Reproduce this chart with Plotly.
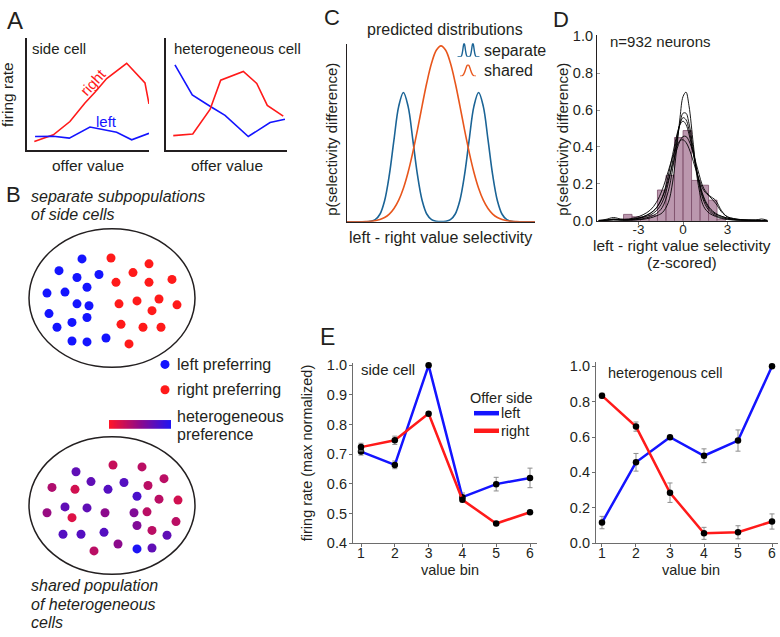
import plotly.graph_objects as go

W, H = 780, 637
FONT = "Liberation Sans, Arial, Helvetica, sans-serif"
INK = "#231f20"
RED = "#ff1a1a"
BLUE = "#1414ff"
SEP_BLUE = "#1b6496"
SHARED_ORANGE = "#e8561c"
HET_SCALE = [[0.0, "#ff1428"], [0.5, "#8c0a8c"], [1.0, "#1e14f5"]]

# ---- A: schematic tuning curves (offer value vs firing rate, arbitrary units)
side_right_x = [0.06, 0.216, 0.352, 0.475, 0.557, 0.653, 0.817, 0.967, 1.0]
side_right_y = [0.073, 0.132, 0.252, 0.418, 0.515, 0.638, 0.775, 0.599, 0.41]
side_left_x = [0.066, 0.216, 0.347, 0.516, 0.735, 0.858, 1.0]
side_left_y = [0.117, 0.12, 0.103, 0.202, 0.155, 0.088, 0.146]
hetA_left_x = [0.074, 0.217, 0.364, 0.488, 0.68, 0.86, 0.983]
hetA_left_y = [0.761, 0.491, 0.389, 0.307, 0.117, 0.243, 0.272]
hetA_right_x = [0.06, 0.221, 0.364, 0.452, 0.639, 0.75, 0.837, 0.969]
hetA_right_y = [0.125, 0.14, 0.36, 0.623, 0.702, 0.594, 0.397, 0.301]

# ---- B: cartoon populations (positions in figure pixels)
sep_blue_x = [82, 59, 77, 99, 47, 65, 87, 77, 89, 49, 72, 87, 57, 72, 87, 106]
sep_blue_y = [258, 270, 277, 274, 293, 292, 287, 304, 306, 314, 323, 318, 328, 342, 343, 339]
sep_red_x = [111, 149, 133, 116, 149, 172, 119, 137, 159, 177, 152, 121, 143, 161, 129]
sep_red_y = [257, 263, 272, 282, 282, 279, 304, 301, 299, 305, 311, 325, 328, 328, 345]
shared_x = [76, 113, 142, 52, 75, 91, 108, 124, 148, 164, 137, 159, 178, 47, 65, 87,
            72, 105, 134, 147, 137, 152, 176, 63, 81, 104, 167, 94, 118, 137, 152]
shared_y = [476, 469, 471, 492, 494, 486, 494, 487, 490, 483, 501, 504, 505, 518, 512, 513,
            523, 518, 518, 517, 531, 536, 527, 540, 540, 538, 541, 557, 550, 555, 554]
# 0 = right preferring (red), 1 = left preferring (blue)
shared_pref = [0.7, 0.25, 0.3, 0.35, 0.2, 0.7, 0.75, 0.75, 0.3, 0.3, 0.8, 0.3, 0.2, 0.45, 0.7, 0.7,
               0.15, 0.5, 0.55, 0.3, 0.55, 0.3, 0.3, 0.75, 0.75, 0.75, 0.7, 0.3, 0.5, 1.0, 0.7]
legend_dot_x = [165, 165]
legend_dot_y = [366, 392]

# ---- C: predicted distributions
c_x = [-4.0, -3.8, -3.6, -3.4, -3.2, -3.0, -2.8, -2.6, -2.4, -2.2, -2.0, -1.8, -1.6, -1.4,
       -1.2, -1.0, -0.8, -0.6, -0.4, -0.2, 0.0, 0.2, 0.4, 0.6, 0.8, 1.0, 1.2, 1.4, 1.6, 1.8,
       2.0, 2.2, 2.4, 2.6, 2.8, 3.0, 3.2, 3.4, 3.6, 3.8, 4.0]
separate_y = [0, 0, 0, 0, 0.0005, 0.003, 0.012, 0.043, 0.12, 0.265, 0.467, 0.656, 0.735, 0.656,
              0.467, 0.265, 0.12, 0.043, 0.012, 0.003, 0.001, 0.003, 0.012, 0.043, 0.12, 0.265,
              0.467, 0.656, 0.735, 0.656, 0.467, 0.265, 0.12, 0.043, 0.012, 0.003, 0.0005, 0, 0, 0, 0]
shared_y_c = [0, 0, 0.0002, 0.0006, 0.0014, 0.003, 0.0063, 0.0127, 0.0243, 0.044, 0.0756, 0.123,
              0.191, 0.282, 0.395, 0.524, 0.662, 0.793, 0.902, 0.975, 1.0, 0.975, 0.902, 0.793,
              0.662, 0.524, 0.395, 0.282, 0.191, 0.123, 0.0756, 0.044, 0.0243, 0.0127, 0.0063,
              0.003, 0.0014, 0.0006, 0.0002, 0, 0]

# ---- D: observed distribution (z-scored), histogram + density curves
hist_x = [-3.73, -3.16, -2.58, -2.01, -1.44, -0.86, -0.29, 0.29, 0.86, 1.44, 2.01, 2.58]
hist_y = [0.035, 0.022, 0.02, 0.03, 0.167, 0.246, 0.451, 0.489, 0.219, 0.193, 0.112, 0.01]
bin_width = 0.574
d_x = [-5.7, -5.2, -4.7, -4.2, -3.7, -3.2, -2.7, -2.2, -1.8, -1.4, -1.0, -0.7, -0.4, -0.2, 0.0,
       0.2, 0.4, 0.7, 1.0, 1.4, 1.8, 2.2, 2.6, 3.0, 3.4, 3.9, 4.4, 4.9, 5.3, 5.7]
density_curves = [
    [0.0, 0.003, 0.010, 0.005, 0.003, 0.004, 0.008, 0.016, 0.027, 0.044, 0.098, 0.21, 0.412, 0.561,
     0.673, 0.697, 0.625, 0.412, 0.21, 0.077, 0.04, 0.024, 0.013, 0.007, 0.004, 0.003, 0.004,
     0.003, 0.002, 0.0],
    [0.0, 0.002, 0.006, 0.004, 0.004, 0.006, 0.012, 0.023, 0.039, 0.073, 0.159, 0.281, 0.438, 0.529,
     0.583, 0.583, 0.529, 0.385, 0.235, 0.106, 0.052, 0.029, 0.018, 0.01, 0.005, 0.003, 0.002,
     0.002, 0.001, 0.0],
    [0.001, 0.004, 0.008, 0.006, 0.005, 0.01, 0.019, 0.032, 0.055, 0.101, 0.203, 0.324, 0.458, 0.526,
     0.559, 0.548, 0.495, 0.37, 0.24, 0.12, 0.063, 0.036, 0.024, 0.014, 0.008, 0.004, 0.003,
     0.002, 0.001, 0.0],
    [0.0, 0.002, 0.004, 0.004, 0.005, 0.011, 0.022, 0.041, 0.07, 0.129, 0.243, 0.36, 0.471, 0.522,
     0.54, 0.522, 0.471, 0.36, 0.243, 0.129, 0.07, 0.041, 0.025, 0.015, 0.008, 0.004, 0.003,
     0.004, 0.002, 0.0],
    [0.0, 0.003, 0.007, 0.004, 0.006, 0.012, 0.022, 0.042, 0.07, 0.126, 0.219, 0.306, 0.391, 0.434,
     0.457, 0.457, 0.434, 0.365, 0.276, 0.176, 0.136, 0.111, 0.055, 0.021, 0.012, 0.006, 0.004,
     0.003, 0.002, 0.0],
    [0.003, 0.008, 0.018, 0.01, 0.01, 0.018, 0.033, 0.059, 0.1, 0.169, 0.268, 0.347, 0.41, 0.435,
     0.439, 0.425, 0.393, 0.321, 0.244, 0.165, 0.131, 0.096, 0.049, 0.022, 0.013, 0.007, 0.004,
     0.004, 0.01, 0.003],
]

# ---- E: example neurons, firing rate (max normalized) per value bin
value_bins = [1, 2, 3, 4, 5, 6]
side_left = [0.709, 0.664, 1.0, 0.555, 0.599, 0.620]
side_left_err = [0.012, 0.013, 0.0, 0.014, 0.023, 0.033]
side_right = [0.724, 0.747, 0.837, 0.546, 0.466, 0.504]
side_right_err = [0.013, 0.014, 0.0, 0.007, 0.003, 0.003]
het_left = [0.116, 0.457, 0.599, 0.494, 0.58, 1.0]
het_left_err = [0.035, 0.05, 0.004, 0.039, 0.06, 0.0]
het_right = [0.834, 0.659, 0.285, 0.055, 0.061, 0.122]
het_right_err = [0.014, 0.026, 0.055, 0.034, 0.037, 0.043]


def fx(p):
    return p / W


def fy(p):
    return 1 - p / H


def frame(x0, x1, rng, line_color=INK, width=1.5):
    return dict(domain=[fx(x0), fx(x1)], range=rng, showgrid=False, zeroline=False,
                showline=True, linecolor=line_color, linewidth=width, ticks="",
                showticklabels=False, fixedrange=True)


def vframe(y_top, y_bot, rng, line_color=INK, width=1.5):
    return dict(domain=[fy(y_bot), fy(y_top)], range=rng, showgrid=False, zeroline=False,
                showline=True, linecolor=line_color, linewidth=width, ticks="",
                showticklabels=False, fixedrange=True)


def hidden(domain, rng):
    return dict(domain=domain, range=rng, visible=False, fixedrange=True)


fig = go.Figure()

# A
fig.add_trace(go.Scatter(x=side_right_x, y=side_right_y, mode="lines", line=dict(color=RED, width=1.6),
                         xaxis="x", yaxis="y", showlegend=False))
fig.add_trace(go.Scatter(x=side_left_x, y=side_left_y, mode="lines", line=dict(color=BLUE, width=1.6),
                         xaxis="x", yaxis="y", showlegend=False))
fig.add_trace(go.Scatter(x=hetA_left_x, y=hetA_left_y, mode="lines", line=dict(color=BLUE, width=1.6),
                         xaxis="x2", yaxis="y2", showlegend=False))
fig.add_trace(go.Scatter(x=hetA_right_x, y=hetA_right_y, mode="lines", line=dict(color=RED, width=1.6),
                         xaxis="x2", yaxis="y2", showlegend=False))

# C
fig.add_trace(go.Scatter(x=c_x, y=separate_y, mode="lines", line=dict(color=SEP_BLUE, width=1.6, shape="spline"),
                         xaxis="x3", yaxis="y3", showlegend=False))
fig.add_trace(go.Scatter(x=c_x, y=shared_y_c, mode="lines", line=dict(color=SHARED_ORANGE, width=1.6, shape="spline"),
                         xaxis="x3", yaxis="y3", showlegend=False))
# C legend glyphs: miniature copies of the curves
fig.add_trace(go.Scatter(x=c_x, y=separate_y, mode="lines", line=dict(color=SEP_BLUE, width=1.4, shape="spline"),
                         xaxis="x4", yaxis="y4", showlegend=False))
fig.add_trace(go.Scatter(x=c_x, y=shared_y_c, mode="lines", line=dict(color=SHARED_ORANGE, width=1.4, shape="spline"),
                         xaxis="x5", yaxis="y5", showlegend=False))

# D
fig.add_trace(go.Bar(x=hist_x, y=hist_y, width=bin_width,
                     marker=dict(color="rgba(150,95,130,0.65)", line=dict(color="rgb(125,80,108)", width=0.8)),
                     xaxis="x6", yaxis="y6", showlegend=False))
for curve in density_curves:
    fig.add_trace(go.Scatter(x=d_x, y=curve, mode="lines", line=dict(color="black", width=0.9, shape="spline"),
                             xaxis="x6", yaxis="y6", showlegend=False))

# E
for xa, ya, ys, errs, col in [("x7", "y7", side_left, side_left_err, BLUE),
                              ("x7", "y7", side_right, side_right_err, RED),
                              ("x8", "y8", het_left, het_left_err, BLUE),
                              ("x8", "y8", het_right, het_right_err, RED)]:
    fig.add_trace(go.Scatter(x=value_bins, y=ys, mode="lines+markers",
                             line=dict(color=col, width=2.5),
                             marker=dict(color="black", size=6.5),
                             error_y=dict(type="data", array=errs, color="#8c8c8c", thickness=1, width=2.5),
                             xaxis=xa, yaxis=ya, showlegend=False, cliponaxis=False))

# B (figure-pixel overlay)
fig.add_trace(go.Scatter(x=sep_blue_x, y=sep_blue_y, mode="markers", marker=dict(color=BLUE, size=9),
                         xaxis="x9", yaxis="y9", showlegend=False))
fig.add_trace(go.Scatter(x=sep_red_x, y=sep_red_y, mode="markers", marker=dict(color=RED, size=9),
                         xaxis="x9", yaxis="y9", showlegend=False))
fig.add_trace(go.Scatter(x=shared_x, y=shared_y, mode="markers",
                         marker=dict(color=shared_pref, colorscale=HET_SCALE, cmin=0, cmax=1, size=9),
                         xaxis="x9", yaxis="y9", showlegend=False))
fig.add_trace(go.Scatter(x=legend_dot_x, y=legend_dot_y, mode="markers",
                         marker=dict(color=[BLUE, RED], size=9),
                         xaxis="x9", yaxis="y9", showlegend=False))
fig.add_trace(go.Heatmap(z=[[0, 1], [0, 1]], x=[0, 1], y=[0, 1], zsmooth="best", colorscale=HET_SCALE,
                         zmin=0, zmax=1, showscale=False, xaxis="x10", yaxis="y10", hoverinfo="skip"))

tick_font = dict(family=FONT, size=14.5, color=INK)
e_xtick_font = dict(family=FONT, size=14, color=INK)

layout_axes = dict(
    xaxis=dict(frame(27, 149, [0, 1]), anchor="y"),
    yaxis=dict(vframe(32, 146, [0, 1]), anchor="x"),
    xaxis2=dict(frame(166, 287, [0, 1]), anchor="y2"),
    yaxis2=dict(vframe(32, 146, [0, 1]), anchor="x2"),
    xaxis3=dict(frame(347, 535, [-4, 4], width=1.2), anchor="y3"),
    yaxis3=dict(vframe(38, 220, [0, 1.01], width=1.2), anchor="x3"),
    xaxis4=dict(hidden([fx(457), fx(480)], [-4.2, 4.2]), anchor="y4"),
    yaxis4=dict(hidden([fy(51), fy(37)], [0, 0.75]), anchor="x4"),
    xaxis5=dict(hidden([fx(460), fx(476)], [-3, 3]), anchor="y5"),
    yaxis5=dict(hidden([fy(71), fy(59)], [0, 1]), anchor="x5"),
    xaxis6=dict(frame(597, 768, [-5.81, 5.74], width=1.2), anchor="y6",
                ticks="outside", ticklen=3, tickcolor="#777", showticklabels=True,
                ticklabelstandoff=-7,
                tickvals=[-3, 0, 3], ticktext=["-3", "0", "3"],
                tickfont=dict(family=FONT, size=13.5, color=INK)),
    yaxis6=dict(vframe(29, 219, [0, 1.005], width=1.2), anchor="x6",
                ticks="inside", ticklen=3, tickcolor="#999", showticklabels=True,
                tickvals=[0, 0.2, 0.4, 0.6, 0.8, 1.0],
                ticktext=["0.0", "0.2", "0.4", "0.6", "0.8", "1.0"], tickfont=tick_font),
    xaxis7=dict(frame(353, 537, [0.763, 6.207], line_color="#6d6d6d", width=1.2), anchor="y7",
                ticks="outside", ticklen=3, tickcolor="#6d6d6d", showticklabels=True,
                ticklabelstandoff=-6,
                tickvals=value_bins, tickfont=e_xtick_font),
    yaxis7=dict(vframe(365, 549, [0.4, 1.0066], line_color="#6d6d6d", width=1.2), anchor="x7",
                ticks="outside", ticklen=3, tickcolor="#6d6d6d", showticklabels=True,
                ticklabelstandoff=-1,
                tickvals=[0.4, 0.5, 0.6, 0.7, 0.8, 0.9, 1.0],
                ticktext=["0.4", "0.5", "0.6", "0.7", "0.8", "0.9", "1.0"], tickfont=tick_font),
    xaxis8=dict(frame(596, 778, [0.824, 6.176], line_color="#6d6d6d", width=1.2), anchor="y8",
                ticks="outside", ticklen=3, tickcolor="#6d6d6d", showticklabels=True,
                ticklabelstandoff=-6,
                tickvals=value_bins, tickfont=e_xtick_font),
    yaxis8=dict(vframe(364, 549, [0, 1.022], line_color="#6d6d6d", width=1.2), anchor="x8",
                ticks="outside", ticklen=3, tickcolor="#6d6d6d", showticklabels=True,
                ticklabelstandoff=-1,
                tickvals=[0, 0.2, 0.4, 0.6, 0.8, 1.0],
                ticktext=["0.0", "0.2", "0.4", "0.6", "0.8", "1.0"], tickfont=tick_font),
    xaxis9=dict(hidden([0, 1], [0, W]), anchor="y9"),
    yaxis9=dict(hidden([0, 1], [H, 0]), anchor="x9"),
    xaxis10=dict(hidden([fx(109), fx(171)], [0, 1]), anchor="y10"),
    yaxis10=dict(hidden([fy(432), fy(423)], [0, 1]), anchor="x10"),
)

ann = []


def label(text, x, y, size=16, anchor="center", color=INK, angle=0):
    ann.append(dict(text=text, x=fx(x), y=fy(y), xref="paper", yref="paper", showarrow=False,
                    xanchor=anchor, yanchor="middle", textangle=angle, borderpad=0,
                    font=dict(family=FONT, size=size, color=color)))


# panel letters
label("A", 15.5, 14, 24)
label("B", 13.5, 192.5, 22)
label("C", 332, 10.5, 22)
label("D", 561, 13, 22)
label("E", 327, 338, 23)
# A
label("side cell", 31, 42, 15, "left")
label("heterogeneous cell", 173, 42, 15, "left")
label("firing rate", 8, 90, 15.5, angle=-90)
label("offer value", 87.5, 162, 15.5)
label("offer value", 226.5, 162, 15.5)
label("right", 92.5, 77, 15, color=RED, angle=-48)
label("left", 106.5, 117, 15, color=BLUE)
# B
label("<i>separate subpopulations</i>", 30, 194, 16, "left")
label("<i>of side cells</i>", 30, 213, 16, "left")
label("left preferring", 176, 366, 16, "left")
label("right preferring", 176, 392, 16, "left")
label("heterogeneous", 176, 419, 16, "left")
label("preference", 176, 438, 16, "left")
label("<i>shared population</i>", 30, 592, 16, "left")
label("<i>of heterogeneous</i>", 30, 612, 16, "left")
label("<i>cells</i>", 30, 630, 16, "left")
# C
label("predicted distributions", 444.5, 23, 16)
label("separate", 483, 45, 16, "left")
label("shared", 483, 65, 16, "left")
label("p(selectivity difference)", 332, 136, 15, angle=-90)
label("left - right value selectivity", 440, 236, 16)
# D
label("n=932 neurons", 609, 35, 15, "left")
label("p(selectivity difference)", 563, 136, 15, angle=-90)
label("left - right value selectivity", 682, 244.5, 15.5)
label("(z-scored)", 682, 262, 15.5)
# E
label("firing rate (max normalized)", 307, 457, 14.5, angle=-90)
label("side cell", 360, 371, 15, "left")
label("value bin", 450, 577, 14.5)
label("heterogenous cell", 607, 375, 14.5, "left")
label("value bin", 691, 577, 14.5)
label("Offer side", 469, 400, 14.5, "left")
label("left", 500, 416, 14.5, "left")
label("right", 500, 434, 14.5, "left")

shapes = [
    dict(type="circle", xref="x9", yref="y9", x0=29, x1=195, y0=227, y1=369,
         line=dict(color=INK, width=1.5)),
    dict(type="circle", xref="x9", yref="y9", x0=29, x1=195, y0=440, y1=581,
         line=dict(color=INK, width=1.5)),
    # E legend keys
    dict(type="line", xref="x9", yref="y9", x0=474, x1=499, y0=416, y1=416,
         line=dict(color=BLUE, width=4.5)),
    dict(type="line", xref="x9", yref="y9", x0=474, x1=499, y0=434, y1=434,
         line=dict(color=RED, width=4.5)),
]

fig.update_layout(
    width=W, height=H, margin=dict(l=0, r=0, t=0, b=0),
    paper_bgcolor="white", plot_bgcolor="rgba(0,0,0,0)",
    font=dict(family=FONT, color=INK),
    annotations=ann, shapes=shapes,
    showlegend=False,
    **layout_axes,
)

fig.write_html("out.html", config={"displayModeBar": False},
               post_script="document.body.style.margin='0px';")
